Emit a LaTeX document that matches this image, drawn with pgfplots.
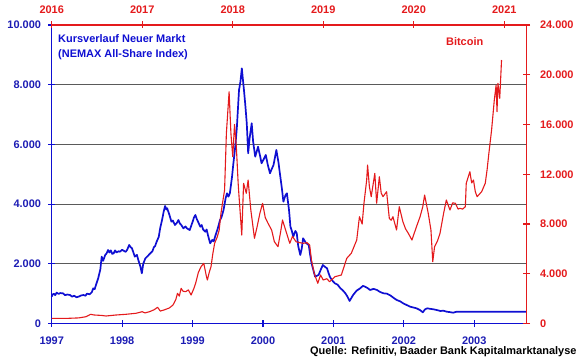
\documentclass[border=0pt]{standalone}
\usepackage{fontspec}
\setmainfont{Liberation Sans}
\usepackage{pgfplots}
\pgfplotsset{compat=1.18}
\definecolor{nblue}{RGB}{15,15,210}
\definecolor{nblueT}{RGB}{28,28,180}
\definecolor{bred}{RGB}{228,26,28}
\definecolor{gridc}{RGB}{90,90,90}
\pgfplotsset{
  common/.style={
    scale only axis, width=475bp, height=298.5bp,
    at={(0,0)}, anchor=south west,
    tick align=center, major tick length=7bp,
    scaled ticks=false,
    /pgf/number format/assume math mode=true,
    /pgf/number format/1000 sep={.},
    ticklabel style={font=\fontsize{11}{13}\selectfont\bfseries},
    xticklabel style={/pgf/number format/1000 sep={}},
    axis line style={line width=1.3bp},
    tick style={line width=1.1bp},
    clip=false,
  }
}
\begin{document}
\begin{tikzpicture}[font=\fontsize{11}{13}\selectfont\bfseries]
\path[use as bounding box] (-51.7bp,-35.5bp) rectangle (528.3bp,323.5bp);
\begin{axis}[common,
  xmin=1997, xmax=2003.745, ymin=0, ymax=10000,
  axis x line*=bottom, axis y line*=left,
  xtick={1997,1998,1999,2000,2001,2002,2003}, ytick={0,2000,4000,6000,8000,10000},
  ymajorgrids, grid style={gridc, line width=0.7bp},
  axis line style={nblue}, tick style={nblue},
  xticklabel style={text=nblueT, yshift=-6bp},
  yticklabel style={text=nblueT, xshift=-3.7bp},
]
\addplot[nblue, line width=1.7bp, line join=round, no markers] coordinates {
(1997.00,898)(1997.01,960)(1997.03,1000)(1997.05,950)(1997.07,1032)(1997.10,990)(1997.12,1020)(1997.16,1011)(1997.19,950)(1997.22,970)(1997.26,955)(1997.29,900)(1997.32,930)(1997.35,880)(1997.38,898)(1997.42,940)(1997.45,955)(1997.48,930)(1997.50,1000)(1997.54,980)(1997.57,1050)(1997.59,1179)(1997.61,1150)(1997.63,1300)(1997.66,1514)(1997.69,1800)(1997.71,2238)(1997.73,2100)(1997.76,2295)(1997.78,2350)(1997.80,2462)(1997.82,2380)(1997.84,2450)(1997.86,2330)(1997.88,2352)(1997.90,2450)(1997.92,2380)(1997.95,2420)(1997.97,2405)(1998.00,2470)(1998.02,2440)(1998.05,2400)(1998.07,2462)(1998.10,2630)(1998.12,2560)(1998.14,2519)(1998.16,2380)(1998.18,2238)(1998.21,2300)(1998.23,2127)(1998.26,1900)(1998.28,1682)(1998.30,2000)(1998.33,2183)(1998.36,2250)(1998.40,2352)(1998.43,2420)(1998.45,2550)(1998.47,2600)(1998.49,2741)(1998.52,2900)(1998.54,3189)(1998.57,3500)(1998.59,3745)(1998.61,3936)(1998.63,3820)(1998.64,3859)(1998.67,3650)(1998.70,3411)(1998.72,3450)(1998.75,3300)(1998.78,3380)(1998.80,3467)(1998.82,3350)(1998.84,3300)(1998.87,3189)(1998.90,3250)(1998.92,3189)(1998.96,3132)(1999.00,3400)(1999.02,3550)(1999.04,3635)(1999.06,3500)(1999.08,3400)(1999.11,3243)(1999.13,3300)(1999.15,3150)(1999.18,3076)(1999.20,3150)(1999.22,2950)(1999.25,2687)(1999.28,2800)(1999.30,2750)(1999.32,2908)(1999.36,3200)(1999.39,3467)(1999.41,3550)(1999.44,3802)(1999.47,4200)(1999.49,4362)(1999.51,4250)(1999.53,4362)(1999.56,4900)(1999.58,5367)(1999.61,6000)(1999.63,6593)(1999.66,7822)(1999.68,8100)(1999.70,8548)(1999.71,8300)(1999.73,7822)(1999.75,7300)(1999.77,6706)(1999.79,5702)(1999.81,6200)(1999.84,6706)(1999.86,6100)(1999.89,5588)(1999.91,5750)(1999.93,5923)(1999.96,5600)(1999.98,5367)(2000.01,5500)(2000.04,5645)(2000.07,5300)(2000.10,5032)(2000.12,5150)(2000.15,5310)(2000.19,5812)(2000.22,5400)(2000.24,5032)(2000.27,4500)(2000.29,4081)(2000.32,4300)(2000.34,4362)(2000.37,3800)(2000.39,3243)(2000.41,3100)(2000.43,2908)(2000.46,3100)(2000.48,3022)(2000.50,2600)(2000.53,2295)(2000.55,2500)(2000.57,2854)(2000.61,2700)(2000.65,2630)(2000.67,2300)(2000.69,2017)(2000.72,1750)(2000.74,1568)(2000.79,1625)(2000.82,1800)(2000.85,1960)(2000.88,1900)(2000.91,1849)(2000.93,1700)(2000.95,1568)(2000.98,1450)(2001.02,1347)(2001.06,1300)(2001.10,1179)(2001.13,1120)(2001.17,1012)(2001.20,900)(2001.23,754)(2001.28,955)(2001.33,1100)(2001.38,1179)(2001.42,1260)(2001.45,1233)(2001.49,1180)(2001.52,1122)(2001.57,1160)(2001.62,1122)(2001.66,1060)(2001.71,1012)(2001.76,1000)(2001.81,940)(2001.86,850)(2001.90,787)(2001.95,740)(2001.99,677)(2002.04,620)(2002.09,563)(2002.13,540)(2002.18,509)(2002.23,450)(2002.27,375)(2002.30,470)(2002.33,509)(2002.38,490)(2002.42,476)(2002.47,450)(2002.52,419)(2002.56,430)(2002.61,395)(2002.66,380)(2002.70,362)(2002.75,395)(2003.745,395)
};
\end{axis}
\begin{axis}[common,
  xmin=2016, xmax=2021.248, ymin=0, ymax=24000,
  axis x line*=top, axis y line*=right,
  xtick={2016,2017,2018,2019,2020,2021}, ytick={0,4000,8000,12000,16000,20000,24000},
  axis line style={bred}, tick style={bred},
  xticklabel style={text=bred, yshift=4.6bp},
  yticklabel style={text=bred, xshift=6.3bp},
]
\addplot[bred, line width=1.1bp, line join=round, no markers] coordinates {
(2016.00,418)(2016.10,410)(2016.19,418)(2016.30,450)(2016.38,547)(2016.43,740)(2016.47,683)(2016.55,650)(2016.60,603)(2016.71,683)(2016.82,740)(2016.93,820)(2017.00,949)(2017.03,850)(2017.08,949)(2017.13,1100)(2017.17,1302)(2017.20,1000)(2017.24,1085)(2017.30,1250)(2017.34,1487)(2017.37,1900)(2017.39,2428)(2017.41,2200)(2017.43,2830)(2017.45,2600)(2017.48,2557)(2017.51,2700)(2017.54,2291)(2017.57,2800)(2017.59,3232)(2017.62,4100)(2017.65,4567)(2017.68,4840)(2017.71,3763)(2017.72,3497)(2017.74,4100)(2017.76,4567)(2017.78,5600)(2017.80,6448)(2017.83,6979)(2017.85,7500)(2017.87,8860)(2017.89,9800)(2017.91,10733)(2017.93,15292)(2017.96,18637)(2017.98,15292)(2018.00,13411)(2018.02,16000)(2018.04,14215)(2018.06,11272)(2018.07,10195)(2018.10,7115)(2018.12,11272)(2018.15,10468)(2018.17,11537)(2018.20,9125)(2018.22,8000)(2018.24,6850)(2018.27,7800)(2018.30,8860)(2018.33,9664)(2018.36,8500)(2018.39,8056)(2018.43,7517)(2018.46,6576)(2018.50,6175)(2018.53,7400)(2018.55,8321)(2018.59,7381)(2018.63,6448)(2018.66,7000)(2018.70,6576)(2018.74,6500)(2018.78,6448)(2018.82,6500)(2018.85,6311)(2018.87,5105)(2018.90,4036)(2018.94,3232)(2018.97,3900)(2019.00,3497)(2019.04,3600)(2019.07,3361)(2019.13,3763)(2019.20,3899)(2019.26,5242)(2019.31,5644)(2019.37,6713)(2019.40,8587)(2019.43,8000)(2019.45,9664)(2019.48,11537)(2019.49,12743)(2019.51,11000)(2019.53,10195)(2019.57,12075)(2019.59,9664)(2019.62,11803)(2019.64,10500)(2019.66,10195)(2019.70,10597)(2019.73,8458)(2019.75,8300)(2019.77,8587)(2019.81,7517)(2019.84,9390)(2019.88,8185)(2019.91,7600)(2019.94,7250)(2019.98,6713)(2020.03,7782)(2020.07,8587)(2020.10,9400)(2020.12,10331)(2020.16,8860)(2020.19,7517)(2020.21,4969)(2020.23,6175)(2020.26,6600)(2020.29,7250)(2020.33,8860)(2020.36,9929)(2020.40,9125)(2020.43,9700)(2020.46,9664)(2020.49,9200)(2020.51,9262)(2020.54,9200)(2020.57,9390)(2020.58,11272)(2020.62,12205)(2020.64,11300)(2020.66,11537)(2020.68,10600)(2020.70,10195)(2020.75,10597)(2020.79,11272)(2020.81,12341)(2020.83,13684)(2020.86,15557)(2020.89,17969)(2020.91,19175)(2020.92,17029)(2020.93,19312)(2020.95,18106)(2020.97,21185)
};
\end{axis}
\node[anchor=base west, inner sep=0, text=nblue] at (6.3bp,280.5bp) {Kursverlauf Neuer Markt};
\node[anchor=base west, inner sep=0, text=nblue] at (6.3bp,266.3bp) {(NEMAX All-Share Index)};
\node[anchor=base, inner sep=0, text=bred] at (413bp,278.2bp) {Bitcoin};
\node[anchor=base east, inner sep=0, text=black] at (525bp,-31.1bp) {Quelle: Refinitiv, Baader Bank Kapitalmarktanalyse};
\end{tikzpicture}
\end{document}
